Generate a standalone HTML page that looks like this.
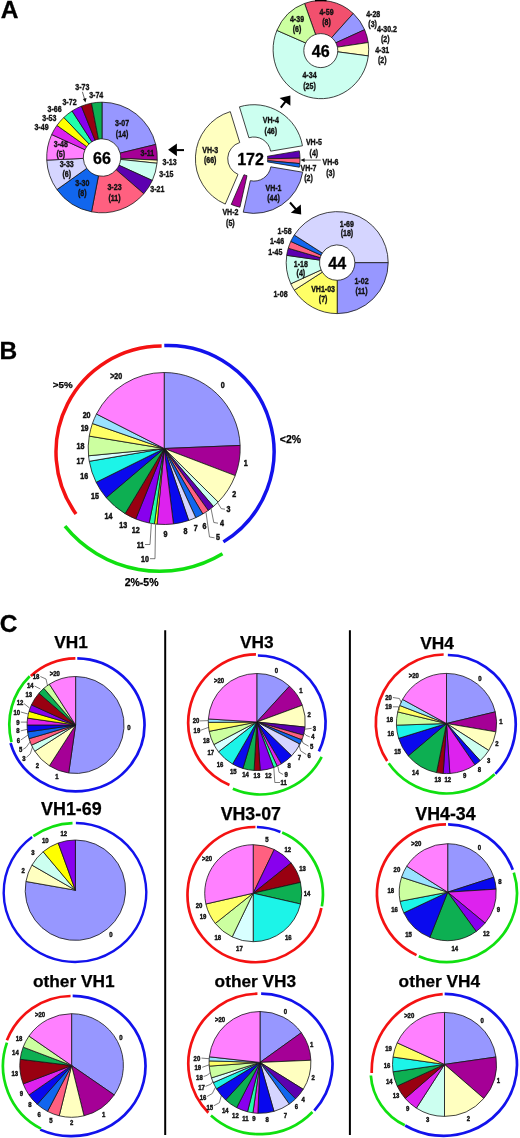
<!DOCTYPE html>
<html><head><meta charset="utf-8"><title>Figure</title>
<style>
html,body{margin:0;padding:0;background:#fff}
svg{display:block;font-family:"Liberation Sans",sans-serif}
</style></head><body>
<svg width="520" height="1138" viewBox="0 0 520 1138">
<rect width="520" height="1138" fill="#fff"/>
<text x="0.7" y="18.22" font-size="24.5" text-anchor="start" font-weight="bold" fill="#000" stroke="#000" stroke-width="0.3">A</text>
<text x="-0.5" y="359.02" font-size="24.5" text-anchor="start" font-weight="bold" fill="#000" stroke="#000" stroke-width="0.3">B</text>
<text x="-0.2" y="631.82" font-size="24.5" text-anchor="start" font-weight="bold" fill="#000" stroke="#000" stroke-width="0.3">C</text>
<path d="M102 102.2A55.3 55.3 0 0 1 155.74 144.46L120.17 153.09A18.7 18.7 0 0 0 102 138.8Z" fill="#9797FF" stroke="#151515" stroke-width="0.8" stroke-linejoin="round"/>
<path d="M155.74 144.46A55.3 55.3 0 0 1 157.24 160.13L120.68 158.39A18.7 18.7 0 0 0 120.17 153.09Z" fill="#A50096" stroke="#151515" stroke-width="0.8" stroke-linejoin="round"/>
<path d="M157.24 160.13A55.3 55.3 0 0 1 157 163.28L120.6 159.45A18.7 18.7 0 0 0 120.68 158.39Z" fill="#FFFFC0" stroke="#151515" stroke-width="0.8" stroke-linejoin="round"/>
<path d="M157 163.28A55.3 55.3 0 0 1 152.3 180.47L119.01 165.27A18.7 18.7 0 0 0 120.6 159.45Z" fill="#CCFFF0" stroke="#151515" stroke-width="0.8" stroke-linejoin="round"/>
<path d="M152.3 180.47A55.3 55.3 0 0 1 143.79 193.71L116.13 169.75A18.7 18.7 0 0 0 119.01 165.27Z" fill="#5C00B0" stroke="#151515" stroke-width="0.8" stroke-linejoin="round"/>
<path d="M143.79 193.71A55.3 55.3 0 0 1 91.53 211.8L98.46 175.86A18.7 18.7 0 0 0 116.13 169.75Z" fill="#FF6080" stroke="#151515" stroke-width="0.8" stroke-linejoin="round"/>
<path d="M91.53 211.8A55.3 55.3 0 0 1 56.95 189.58L86.77 168.35A18.7 18.7 0 0 0 98.46 175.86Z" fill="#1166EE" stroke="#151515" stroke-width="0.8" stroke-linejoin="round"/>
<path d="M56.95 189.58A55.3 55.3 0 0 1 46.76 160.13L83.32 158.39A18.7 18.7 0 0 0 86.77 168.35Z" fill="#D5D5FF" stroke="#151515" stroke-width="0.8" stroke-linejoin="round"/>
<path d="M46.76 160.13A55.3 55.3 0 0 1 51.7 134.53L84.99 149.73A18.7 18.7 0 0 0 83.32 158.39Z" fill="#FF80FF" stroke="#151515" stroke-width="0.8" stroke-linejoin="round"/>
<path d="M51.7 134.53A55.3 55.3 0 0 1 56.95 125.42L86.77 146.65A18.7 18.7 0 0 0 84.99 149.73Z" fill="#DD22EE" stroke="#151515" stroke-width="0.8" stroke-linejoin="round"/>
<path d="M56.95 125.42A55.3 55.3 0 0 1 63.84 117.48L89.1 143.97A18.7 18.7 0 0 0 86.77 146.65Z" fill="#FFFF00" stroke="#151515" stroke-width="0.8" stroke-linejoin="round"/>
<path d="M63.84 117.48A55.3 55.3 0 0 1 72.1 110.98L91.89 141.77A18.7 18.7 0 0 0 89.1 143.97Z" fill="#22FFAA" stroke="#151515" stroke-width="0.8" stroke-linejoin="round"/>
<path d="M72.1 110.98A55.3 55.3 0 0 1 81.45 106.16L95.05 140.14A18.7 18.7 0 0 0 91.89 141.77Z" fill="#8800EE" stroke="#151515" stroke-width="0.8" stroke-linejoin="round"/>
<path d="M81.45 106.16A55.3 55.3 0 0 1 91.53 103.2L98.46 139.14A18.7 18.7 0 0 0 95.05 140.14Z" fill="#990011" stroke="#151515" stroke-width="0.8" stroke-linejoin="round"/>
<path d="M91.53 103.2A55.3 55.3 0 0 1 102 102.2L102 138.8A18.7 18.7 0 0 0 98.46 139.14Z" fill="#0DAF52" stroke="#151515" stroke-width="0.8" stroke-linejoin="round"/>
<text transform="translate(102 163.98) scale(0.97 1)" font-size="16.6" text-anchor="middle" font-weight="bold" fill="#000" stroke="#000" stroke-width="0.3">66</text>
<g transform="translate(320.9 49.6) scale(1 1.027)">
<path d="M-16.35 -44.92A47.8 47.8 0 0 1 32.36 -35.18L6.77 -7.36A10 10 0 0 0 -3.42 -9.4Z" fill="#F2506E" stroke="#151515" stroke-width="0.8" stroke-linejoin="round"/>
<path d="M32.36 -35.18A47.8 47.8 0 0 1 43.7 -19.38L9.14 -4.05A10 10 0 0 0 6.77 -7.36Z" fill="#9797FF" stroke="#151515" stroke-width="0.8" stroke-linejoin="round"/>
<path d="M43.7 -19.38A47.8 47.8 0 0 1 47.3 -6.87L9.9 -1.44A10 10 0 0 0 9.14 -4.05Z" fill="#A50096" stroke="#151515" stroke-width="0.8" stroke-linejoin="round"/>
<path d="M47.3 -6.87A47.8 47.8 0 0 1 47.4 6.15L9.92 1.29A10 10 0 0 0 9.9 -1.44Z" fill="#FFFFC0" stroke="#151515" stroke-width="0.8" stroke-linejoin="round"/>
<path d="M47.4 6.15A47.8 47.8 0 1 1 -43.99 -18.71L-9.2 -3.91A10 10 0 1 0 9.92 1.29Z" fill="#CCFFF0" stroke="#151515" stroke-width="0.8" stroke-linejoin="round"/>
<path d="M-43.99 -18.71A47.8 47.8 0 0 1 -16.35 -44.92L-3.42 -9.4A10 10 0 0 0 -9.2 -3.91Z" fill="#CCFFA0" stroke="#151515" stroke-width="0.8" stroke-linejoin="round"/>
</g>
<circle cx="320.8" cy="50.6" r="17" fill="#fff" stroke="#151515" stroke-width="0.8"/>
<rect x="315" y="0" width="11.5" height="1.3" fill="#000"/>
<text transform="translate(320.8 56.78) scale(0.97 1)" font-size="16.6" text-anchor="middle" font-weight="bold" fill="#000" stroke="#000" stroke-width="0.3">46</text>
<path d="M388.2 262.6A51 51 0 0 1 337.2 313.6L337.2 280.3A17.7 17.7 0 0 0 354.9 262.6Z" fill="#9797FF" stroke="#151515" stroke-width="0.8" stroke-linejoin="round"/>
<path d="M337.2 313.6A51 51 0 0 1 294.3 290.17L322.31 272.17A17.7 17.7 0 0 0 337.2 280.3Z" fill="#FFFF66" stroke="#151515" stroke-width="0.8" stroke-linejoin="round"/>
<path d="M294.3 290.17A51 51 0 0 1 290.81 283.79L321.1 269.95A17.7 17.7 0 0 0 322.31 272.17Z" fill="#FFFFC0" stroke="#151515" stroke-width="0.8" stroke-linejoin="round"/>
<path d="M290.81 283.79A51 51 0 0 1 286.72 255.34L319.68 260.08A17.7 17.7 0 0 0 321.1 269.95Z" fill="#CCFFF0" stroke="#151515" stroke-width="0.8" stroke-linejoin="round"/>
<path d="M286.72 255.34A51 51 0 0 1 288.27 248.23L320.22 257.61A17.7 17.7 0 0 0 319.68 260.08Z" fill="#5C00B0" stroke="#151515" stroke-width="0.8" stroke-linejoin="round"/>
<path d="M288.27 248.23A51 51 0 0 1 290.81 241.41L321.1 255.25A17.7 17.7 0 0 0 320.22 257.61Z" fill="#FF6080" stroke="#151515" stroke-width="0.8" stroke-linejoin="round"/>
<path d="M290.81 241.41A51 51 0 0 1 294.3 235.03L322.31 253.03A17.7 17.7 0 0 0 321.1 255.25Z" fill="#1166EE" stroke="#151515" stroke-width="0.8" stroke-linejoin="round"/>
<path d="M294.3 235.03A51 51 0 0 1 388.2 262.6L354.9 262.6A17.7 17.7 0 0 0 322.31 253.03Z" fill="#D5D5FF" stroke="#151515" stroke-width="0.8" stroke-linejoin="round"/>
<text transform="translate(337.2 269.18) scale(0.97 1)" font-size="16.6" text-anchor="middle" font-weight="bold" fill="#000" stroke="#000" stroke-width="0.3">44</text>
<path d="M239.44 106.85A49.3 49.3 0 0 1 302.46 145.78L270.62 151.16A17 17 0 0 0 248.88 137.74Z" fill="#CCFFF0" stroke="#151515" stroke-width="0.8" stroke-linejoin="round"/>
<path d="M299.31 150.89A49.3 49.3 0 0 1 299.99 158.14L267.7 158.77A17 17 0 0 0 267.46 156.27Z" fill="#5C00B0" stroke="#151515" stroke-width="0.8" stroke-linejoin="round"/>
<path d="M299.99 158.14A49.3 49.3 0 0 1 299.79 163.6L267.63 160.65A17 17 0 0 0 267.7 158.77Z" fill="#FF6080" stroke="#151515" stroke-width="0.8" stroke-linejoin="round"/>
<path d="M299.79 163.6A49.3 49.3 0 0 1 299.33 167.21L267.47 161.9A17 17 0 0 0 267.63 160.65Z" fill="#1166EE" stroke="#151515" stroke-width="0.8" stroke-linejoin="round"/>
<path d="M302.68 172.19A49.3 49.3 0 0 1 243.26 212.18L250.33 180.67A17 17 0 0 0 270.82 166.87Z" fill="#9797FF" stroke="#151515" stroke-width="0.8" stroke-linejoin="round"/>
<path d="M239.91 207.2A49.3 49.3 0 0 1 231.25 204.4L243.99 174.72A17 17 0 0 0 246.98 175.69Z" fill="#A50096" stroke="#151515" stroke-width="0.8" stroke-linejoin="round"/>
<path d="M225.26 204.08A49.3 49.3 0 0 1 230.29 111.63L239.74 142.52A17 17 0 0 0 238 174.39Z" fill="#FFFFC0" stroke="#151515" stroke-width="0.8" stroke-linejoin="round"/>
<text transform="translate(250.6 164.68) scale(0.97 1)" font-size="16.6" text-anchor="middle" font-weight="bold" fill="#000" stroke="#000" stroke-width="0.3">172</text>
<text transform="translate(82.3 89.99) scale(0.85 1)" font-size="8.3" text-anchor="middle" font-weight="bold" fill="#111" stroke="#111" stroke-width="0.35">3-73</text>
<text transform="translate(96.2 97.59) scale(0.85 1)" font-size="8.3" text-anchor="middle" font-weight="bold" fill="#111" stroke="#111" stroke-width="0.35">3-74</text>
<text transform="translate(69.5 105.19) scale(0.85 1)" font-size="8.3" text-anchor="middle" font-weight="bold" fill="#111" stroke="#111" stroke-width="0.35">3-72</text>
<text transform="translate(54.6 112.49) scale(0.85 1)" font-size="8.3" text-anchor="middle" font-weight="bold" fill="#111" stroke="#111" stroke-width="0.35">3-66</text>
<text transform="translate(49.4 121.19) scale(0.85 1)" font-size="8.3" text-anchor="middle" font-weight="bold" fill="#111" stroke="#111" stroke-width="0.35">3-53</text>
<text transform="translate(41.5 129.79) scale(0.85 1)" font-size="8.3" text-anchor="middle" font-weight="bold" fill="#111" stroke="#111" stroke-width="0.35">3-49</text>
<text transform="translate(122.1 126.29) scale(0.85 1)" font-size="8.3" text-anchor="middle" font-weight="bold" fill="#111" stroke="#111" stroke-width="0.35">3-07</text>
<text transform="translate(122.1 136.59) scale(0.85 1)" font-size="8.3" text-anchor="middle" font-weight="bold" fill="#111" stroke="#111" stroke-width="0.35">(14)</text>
<text transform="translate(147.4 155.79) scale(0.85 1)" font-size="8.3" text-anchor="middle" font-weight="bold" fill="#111" stroke="#111" stroke-width="0.35">3-11</text>
<text transform="translate(169.6 164.89) scale(0.85 1)" font-size="8.3" text-anchor="middle" font-weight="bold" fill="#111" stroke="#111" stroke-width="0.35">3-13</text>
<text transform="translate(166.4 177.19) scale(0.85 1)" font-size="8.3" text-anchor="middle" font-weight="bold" fill="#111" stroke="#111" stroke-width="0.35">3-15</text>
<text transform="translate(157.4 191.79) scale(0.85 1)" font-size="8.3" text-anchor="middle" font-weight="bold" fill="#111" stroke="#111" stroke-width="0.35">3-21</text>
<text transform="translate(114.5 190.39) scale(0.85 1)" font-size="8.3" text-anchor="middle" font-weight="bold" fill="#111" stroke="#111" stroke-width="0.35">3-23</text>
<text transform="translate(114.5 200.69) scale(0.85 1)" font-size="8.3" text-anchor="middle" font-weight="bold" fill="#111" stroke="#111" stroke-width="0.35">(11)</text>
<text transform="translate(82.3 185.89) scale(0.85 1)" font-size="8.3" text-anchor="middle" font-weight="bold" fill="#111" stroke="#111" stroke-width="0.35">3-30</text>
<text transform="translate(82.3 196.19) scale(0.85 1)" font-size="8.3" text-anchor="middle" font-weight="bold" fill="#111" stroke="#111" stroke-width="0.35">(8)</text>
<text transform="translate(66.7 166.79) scale(0.85 1)" font-size="8.3" text-anchor="middle" font-weight="bold" fill="#111" stroke="#111" stroke-width="0.35">3-33</text>
<text transform="translate(66.7 177.09) scale(0.85 1)" font-size="8.3" text-anchor="middle" font-weight="bold" fill="#111" stroke="#111" stroke-width="0.35">(6)</text>
<text transform="translate(60.8 147.09) scale(0.85 1)" font-size="8.3" text-anchor="middle" font-weight="bold" fill="#111" stroke="#111" stroke-width="0.35">3-48</text>
<text transform="translate(60.8 157.39) scale(0.85 1)" font-size="8.3" text-anchor="middle" font-weight="bold" fill="#111" stroke="#111" stroke-width="0.35">(5)</text>
<polyline points="82.4,91.8 84.7,99.5" fill="none" stroke="#222" stroke-width="0.7"/>
<path d="M85.5 102.4L82.9 98.9L86.5 97.9Z" fill="#111"/>
<text transform="translate(326.5 15.09) scale(0.85 1)" font-size="8.3" text-anchor="middle" font-weight="bold" fill="#111" stroke="#111" stroke-width="0.35">4-59</text>
<text transform="translate(326.5 25.39) scale(0.85 1)" font-size="8.3" text-anchor="middle" font-weight="bold" fill="#111" stroke="#111" stroke-width="0.35">(8)</text>
<text transform="translate(297 21.99) scale(0.85 1)" font-size="8.3" text-anchor="middle" font-weight="bold" fill="#111" stroke="#111" stroke-width="0.35">4-39</text>
<text transform="translate(297 32.29) scale(0.85 1)" font-size="8.3" text-anchor="middle" font-weight="bold" fill="#111" stroke="#111" stroke-width="0.35">(6)</text>
<text transform="translate(309.5 78.49) scale(0.85 1)" font-size="8.3" text-anchor="middle" font-weight="bold" fill="#111" stroke="#111" stroke-width="0.35">4-34</text>
<text transform="translate(309.5 88.79) scale(0.85 1)" font-size="8.3" text-anchor="middle" font-weight="bold" fill="#111" stroke="#111" stroke-width="0.35">(25)</text>
<text transform="translate(373.2 16.79) scale(0.85 1)" font-size="8.3" text-anchor="middle" font-weight="bold" fill="#111" stroke="#111" stroke-width="0.35">4-28</text>
<text transform="translate(372.6 27.09) scale(0.85 1)" font-size="8.3" text-anchor="middle" font-weight="bold" fill="#111" stroke="#111" stroke-width="0.35">(3)</text>
<text transform="translate(387 31.69) scale(0.85 1)" font-size="8.3" text-anchor="middle" font-weight="bold" fill="#111" stroke="#111" stroke-width="0.35">4-30.2</text>
<text transform="translate(385.3 41.99) scale(0.85 1)" font-size="8.3" text-anchor="middle" font-weight="bold" fill="#111" stroke="#111" stroke-width="0.35">(2)</text>
<text transform="translate(382.2 53.19) scale(0.85 1)" font-size="8.3" text-anchor="middle" font-weight="bold" fill="#111" stroke="#111" stroke-width="0.35">4-31</text>
<text transform="translate(382.2 63.49) scale(0.85 1)" font-size="8.3" text-anchor="middle" font-weight="bold" fill="#111" stroke="#111" stroke-width="0.35">(2)</text>
<text transform="translate(346.9 226.59) scale(0.85 1)" font-size="8.3" text-anchor="middle" font-weight="bold" fill="#111" stroke="#111" stroke-width="0.35">1-69</text>
<text transform="translate(346.9 236.19) scale(0.85 1)" font-size="8.3" text-anchor="middle" font-weight="bold" fill="#111" stroke="#111" stroke-width="0.35">(18)</text>
<text transform="translate(361.5 283.99) scale(0.85 1)" font-size="8.3" text-anchor="middle" font-weight="bold" fill="#111" stroke="#111" stroke-width="0.35">1-02</text>
<text transform="translate(361.5 293.59) scale(0.85 1)" font-size="8.3" text-anchor="middle" font-weight="bold" fill="#111" stroke="#111" stroke-width="0.35">(11)</text>
<text transform="translate(323.1 292.29) scale(0.85 1)" font-size="8.3" text-anchor="middle" font-weight="bold" fill="#111" stroke="#111" stroke-width="0.35">VH1-03</text>
<text transform="translate(323.1 301.89) scale(0.85 1)" font-size="8.3" text-anchor="middle" font-weight="bold" fill="#111" stroke="#111" stroke-width="0.35">(7)</text>
<text transform="translate(300.9 266.69) scale(0.85 1)" font-size="8.3" text-anchor="middle" font-weight="bold" fill="#111" stroke="#111" stroke-width="0.35">1-18</text>
<text transform="translate(300.9 276.29) scale(0.85 1)" font-size="8.3" text-anchor="middle" font-weight="bold" fill="#111" stroke="#111" stroke-width="0.35">(4)</text>
<text transform="translate(280.5 296.79) scale(0.85 1)" font-size="8.3" text-anchor="middle" font-weight="bold" fill="#111" stroke="#111" stroke-width="0.35">1-08</text>
<text transform="translate(284.6 233.79) scale(0.85 1)" font-size="8.3" text-anchor="middle" font-weight="bold" fill="#111" stroke="#111" stroke-width="0.35">1-58</text>
<text transform="translate(277 244.19) scale(0.85 1)" font-size="8.3" text-anchor="middle" font-weight="bold" fill="#111" stroke="#111" stroke-width="0.35">1-46</text>
<text transform="translate(275.3 255.29) scale(0.85 1)" font-size="8.3" text-anchor="middle" font-weight="bold" fill="#111" stroke="#111" stroke-width="0.35">1-45</text>
<text transform="translate(270.8 123.39) scale(0.85 1)" font-size="8.3" text-anchor="middle" font-weight="bold" fill="#111" stroke="#111" stroke-width="0.35">VH-4</text>
<text transform="translate(270.8 133.69) scale(0.85 1)" font-size="8.3" text-anchor="middle" font-weight="bold" fill="#111" stroke="#111" stroke-width="0.35">(46)</text>
<text transform="translate(313.9 145.49) scale(0.85 1)" font-size="8.3" text-anchor="middle" font-weight="bold" fill="#111" stroke="#111" stroke-width="0.35">VH-5</text>
<text transform="translate(313.9 155.79) scale(0.85 1)" font-size="8.3" text-anchor="middle" font-weight="bold" fill="#111" stroke="#111" stroke-width="0.35">(4)</text>
<text transform="translate(308.5 171.09) scale(0.85 1)" font-size="8.3" text-anchor="middle" font-weight="bold" fill="#111" stroke="#111" stroke-width="0.35">VH-7</text>
<text transform="translate(308.5 181.39) scale(0.85 1)" font-size="8.3" text-anchor="middle" font-weight="bold" fill="#111" stroke="#111" stroke-width="0.35">(2)</text>
<text transform="translate(330.5 165.29) scale(0.85 1)" font-size="8.3" text-anchor="middle" font-weight="bold" fill="#111" stroke="#111" stroke-width="0.35">VH-6</text>
<text transform="translate(330.5 175.59) scale(0.85 1)" font-size="8.3" text-anchor="middle" font-weight="bold" fill="#111" stroke="#111" stroke-width="0.35">(3)</text>
<text transform="translate(273.5 190.69) scale(0.85 1)" font-size="8.3" text-anchor="middle" font-weight="bold" fill="#111" stroke="#111" stroke-width="0.35">VH-1</text>
<text transform="translate(273.5 200.99) scale(0.85 1)" font-size="8.3" text-anchor="middle" font-weight="bold" fill="#111" stroke="#111" stroke-width="0.35">(44)</text>
<text transform="translate(230.4 215.49) scale(0.85 1)" font-size="8.3" text-anchor="middle" font-weight="bold" fill="#111" stroke="#111" stroke-width="0.35">VH-2</text>
<text transform="translate(230.4 225.79) scale(0.85 1)" font-size="8.3" text-anchor="middle" font-weight="bold" fill="#111" stroke="#111" stroke-width="0.35">(5)</text>
<text transform="translate(210.2 152.79) scale(0.85 1)" font-size="8.3" text-anchor="middle" font-weight="bold" fill="#111" stroke="#111" stroke-width="0.35">VH-3</text>
<text transform="translate(210.2 163.09) scale(0.85 1)" font-size="8.3" text-anchor="middle" font-weight="bold" fill="#111" stroke="#111" stroke-width="0.35">(66)</text>
<polyline points="320.8,160.1 303.5,160.1" fill="none" stroke="#222" stroke-width="0.7"/>
<path d="M300.4 160.1L304.6 158.3L304.6 161.9Z" fill="#111"/>
<path d="M168.1 149.8L176.9 143.5L176.9 156.2Z" fill="#000"/>
<polyline points="176.5,150.1 184,150.1" fill="none" stroke="#000" stroke-width="2"/>
<path d="M290.4 95.4L279.6 98.1L290.4 105.8Z" fill="#000"/>
<polyline points="286,100.8 280.8,107.7" fill="none" stroke="#000" stroke-width="2"/>
<path d="M301.2 214.6L300.8 204.6L290.8 212.8Z" fill="#000"/>
<polyline points="290,202.5 296.5,210" fill="none" stroke="#000" stroke-width="2"/>
<path d="M164.2 448.5L164.2 372.5A76 76 0 0 1 240.14 445.45Z" fill="#9797FF" stroke="#151515" stroke-width="0.8" stroke-linejoin="round"/>
<path d="M164.2 448.5L240.14 445.45A76 76 0 0 1 235.2 475.61Z" fill="#A50096" stroke="#151515" stroke-width="0.8" stroke-linejoin="round"/>
<path d="M164.2 448.5L235.2 475.61A76 76 0 0 1 218.13 502.05Z" fill="#FFFFC0" stroke="#151515" stroke-width="0.8" stroke-linejoin="round"/>
<path d="M164.2 448.5L218.13 502.05A76 76 0 0 1 213.36 506.46Z" fill="#CCFFF0" stroke="#151515" stroke-width="0.8" stroke-linejoin="round"/>
<path d="M164.2 448.5L213.36 506.46A76 76 0 0 1 208.23 510.45Z" fill="#5C00B0" stroke="#151515" stroke-width="0.8" stroke-linejoin="round"/>
<path d="M164.2 448.5L208.23 510.45A76 76 0 0 1 202.77 513.98Z" fill="#FF6080" stroke="#151515" stroke-width="0.8" stroke-linejoin="round"/>
<path d="M164.2 448.5L202.77 513.98A76 76 0 0 1 195.72 517.66Z" fill="#1166EE" stroke="#151515" stroke-width="0.8" stroke-linejoin="round"/>
<path d="M164.2 448.5L195.72 517.66A76 76 0 0 1 188.69 520.45Z" fill="#D5D5FF" stroke="#151515" stroke-width="0.8" stroke-linejoin="round"/>
<path d="M164.2 448.5L188.69 520.45A76 76 0 0 1 173.46 523.93Z" fill="#0808EE" stroke="#151515" stroke-width="0.8" stroke-linejoin="round"/>
<path d="M164.2 448.5L173.46 523.93A76 76 0 0 1 157.05 524.16Z" fill="#DD22EE" stroke="#151515" stroke-width="0.8" stroke-linejoin="round"/>
<path d="M164.2 448.5L157.05 524.16A76 76 0 0 1 154.41 523.87Z" fill="#FFFF00" stroke="#151515" stroke-width="0.8" stroke-linejoin="round"/>
<path d="M164.2 448.5L154.41 523.87A76 76 0 0 1 149.18 523Z" fill="#22FFAA" stroke="#151515" stroke-width="0.8" stroke-linejoin="round"/>
<path d="M164.2 448.5L149.18 523A76 76 0 0 1 135.73 518.97Z" fill="#8800EE" stroke="#151515" stroke-width="0.8" stroke-linejoin="round"/>
<path d="M164.2 448.5L135.73 518.97A76 76 0 0 1 125.06 513.64Z" fill="#990011" stroke="#151515" stroke-width="0.8" stroke-linejoin="round"/>
<path d="M164.2 448.5L125.06 513.64A76 76 0 0 1 106.24 497.66Z" fill="#0DAF52" stroke="#151515" stroke-width="0.8" stroke-linejoin="round"/>
<path d="M164.2 448.5L106.24 497.66A76 76 0 0 1 96.13 482.29Z" fill="#0A0AEE" stroke="#151515" stroke-width="0.8" stroke-linejoin="round"/>
<path d="M164.2 448.5L96.13 482.29A76 76 0 0 1 89.29 461.31Z" fill="#1CF4E8" stroke="#151515" stroke-width="0.8" stroke-linejoin="round"/>
<path d="M164.2 448.5L89.29 461.31A76 76 0 0 1 88.55 455.78Z" fill="#D8FFFF" stroke="#151515" stroke-width="0.8" stroke-linejoin="round"/>
<path d="M164.2 448.5L88.55 455.78A76 76 0 0 1 89.22 436.09Z" fill="#CCFFA0" stroke="#151515" stroke-width="0.8" stroke-linejoin="round"/>
<path d="M164.2 448.5L89.22 436.09A76 76 0 0 1 92.43 423.51Z" fill="#FFFF66" stroke="#151515" stroke-width="0.8" stroke-linejoin="round"/>
<path d="M164.2 448.5L92.43 423.51A76 76 0 0 1 96.48 414Z" fill="#99E2FF" stroke="#151515" stroke-width="0.8" stroke-linejoin="round"/>
<path d="M164.2 448.5L96.48 414A76 76 0 0 1 164.2 372.5Z" fill="#FF80FF" stroke="#151515" stroke-width="0.8" stroke-linejoin="round"/>
<path d="M164.3 345.56A106 106 0 0 1 223.38 541.88" fill="none" stroke="#1212EC" stroke-width="3.5"/>
<path d="M76.03 514.01A106 106 0 0 1 161.63 346" fill="none" stroke="#F41212" stroke-width="3.5"/>
<path d="M222.49 553.75A121.75 121.75 0 0 1 64.98 526.12" fill="none" stroke="#10E010" stroke-width="3.5"/>
<text x="279.8" y="443.18" font-size="10.5" text-anchor="start" font-weight="bold" fill="#000" stroke="#000" stroke-width="0.25">&lt;2%</text>
<text x="62.7" y="388.43" font-size="9.8" text-anchor="middle" font-weight="bold" fill="#000" stroke="#000" stroke-width="0.25">&gt;5%</text>
<text x="141.6" y="585.68" font-size="10.5" text-anchor="middle" font-weight="bold" fill="#000" stroke="#000" stroke-width="0.25">2%-5%</text>
<text transform="translate(222.7 387.95) scale(0.87 1)" font-size="8.2" text-anchor="middle" font-weight="bold" fill="#111" stroke="#111" stroke-width="0.45">0</text>
<text transform="translate(245.8 466.05) scale(0.87 1)" font-size="8.2" text-anchor="middle" font-weight="bold" fill="#111" stroke="#111" stroke-width="0.45">1</text>
<text transform="translate(234.2 497.35) scale(0.87 1)" font-size="8.2" text-anchor="middle" font-weight="bold" fill="#111" stroke="#111" stroke-width="0.45">2</text>
<text transform="translate(228.5 512.15) scale(0.87 1)" font-size="8.2" text-anchor="middle" font-weight="bold" fill="#111" stroke="#111" stroke-width="0.45">3</text>
<text transform="translate(221.9 525.95) scale(0.87 1)" font-size="8.2" text-anchor="middle" font-weight="bold" fill="#111" stroke="#111" stroke-width="0.45">4</text>
<text transform="translate(217.9 540.45) scale(0.87 1)" font-size="8.2" text-anchor="middle" font-weight="bold" fill="#111" stroke="#111" stroke-width="0.45">5</text>
<text transform="translate(204.4 528.55) scale(0.87 1)" font-size="8.2" text-anchor="middle" font-weight="bold" fill="#111" stroke="#111" stroke-width="0.45">6</text>
<text transform="translate(195.8 530.75) scale(0.87 1)" font-size="8.2" text-anchor="middle" font-weight="bold" fill="#111" stroke="#111" stroke-width="0.45">7</text>
<text transform="translate(185.4 533.75) scale(0.87 1)" font-size="8.2" text-anchor="middle" font-weight="bold" fill="#111" stroke="#111" stroke-width="0.45">8</text>
<text transform="translate(165.4 536.75) scale(0.87 1)" font-size="8.2" text-anchor="middle" font-weight="bold" fill="#111" stroke="#111" stroke-width="0.45">9</text>
<text transform="translate(144.9 561.55) scale(0.87 1)" font-size="8.2" text-anchor="middle" font-weight="bold" fill="#111" stroke="#111" stroke-width="0.45">10</text>
<text transform="translate(140.4 547.55) scale(0.87 1)" font-size="8.2" text-anchor="middle" font-weight="bold" fill="#111" stroke="#111" stroke-width="0.45">11</text>
<text transform="translate(135.8 532.55) scale(0.87 1)" font-size="8.2" text-anchor="middle" font-weight="bold" fill="#111" stroke="#111" stroke-width="0.45">12</text>
<text transform="translate(123.2 528.35) scale(0.87 1)" font-size="8.2" text-anchor="middle" font-weight="bold" fill="#111" stroke="#111" stroke-width="0.45">13</text>
<text transform="translate(108.5 518.75) scale(0.87 1)" font-size="8.2" text-anchor="middle" font-weight="bold" fill="#111" stroke="#111" stroke-width="0.45">14</text>
<text transform="translate(95 499.45) scale(0.87 1)" font-size="8.2" text-anchor="middle" font-weight="bold" fill="#111" stroke="#111" stroke-width="0.45">15</text>
<text transform="translate(84.2 479.15) scale(0.87 1)" font-size="8.2" text-anchor="middle" font-weight="bold" fill="#111" stroke="#111" stroke-width="0.45">16</text>
<text transform="translate(80.4 463.75) scale(0.87 1)" font-size="8.2" text-anchor="middle" font-weight="bold" fill="#111" stroke="#111" stroke-width="0.45">17</text>
<text transform="translate(80.4 449.45) scale(0.87 1)" font-size="8.2" text-anchor="middle" font-weight="bold" fill="#111" stroke="#111" stroke-width="0.45">18</text>
<text transform="translate(84.6 431.45) scale(0.87 1)" font-size="8.2" text-anchor="middle" font-weight="bold" fill="#111" stroke="#111" stroke-width="0.45">19</text>
<text transform="translate(86.6 417.95) scale(0.87 1)" font-size="8.2" text-anchor="middle" font-weight="bold" fill="#111" stroke="#111" stroke-width="0.45">20</text>
<text transform="translate(116.2 379.15) scale(0.87 1)" font-size="8.2" text-anchor="middle" font-weight="bold" fill="#111" stroke="#111" stroke-width="0.45">&gt;20</text>
<polyline points="217.5,502.5 221.3,508.7 225,509.2" fill="none" stroke="#222" stroke-width="0.6"/>
<polyline points="211,508.5 213.8,522.5 218,523.2" fill="none" stroke="#222" stroke-width="0.6"/>
<polyline points="206,512.5 209.5,537 214.5,537.8" fill="none" stroke="#222" stroke-width="0.6"/>
<polyline points="155.5,524.5 155,558.7 150,558.7" fill="none" stroke="#222" stroke-width="0.6"/>
<polyline points="151.3,524 150,544.5 145,544.5" fill="none" stroke="#222" stroke-width="0.6"/>
<polyline points="165.2,630.3 165.2,1135" fill="none" stroke="#000" stroke-width="2"/>
<polyline points="349.9,630.3 349.9,1135" fill="none" stroke="#000" stroke-width="2"/>
<text x="71" y="648.33" font-size="17.3" text-anchor="middle" font-weight="bold" fill="#000" stroke="#000" stroke-width="0.25">VH1</text>
<path d="M75.6 725L75.6 676.5A48.5 48.5 0 1 1 68.7 773.01Z" fill="#9797FF" stroke="#151515" stroke-width="0.8" stroke-linejoin="round"/>
<path d="M75.6 725L68.7 773.01A48.5 48.5 0 0 1 49.38 765.8Z" fill="#A50096" stroke="#151515" stroke-width="0.8" stroke-linejoin="round"/>
<path d="M75.6 725L49.38 765.8A48.5 48.5 0 0 1 34.8 751.22Z" fill="#FFFFC0" stroke="#151515" stroke-width="0.8" stroke-linejoin="round"/>
<path d="M75.6 725L34.8 751.22A48.5 48.5 0 0 1 31.48 745.15Z" fill="#CCFFF0" stroke="#151515" stroke-width="0.8" stroke-linejoin="round"/>
<path d="M75.6 725L31.48 745.15A48.5 48.5 0 0 1 29.06 738.66Z" fill="#FF6080" stroke="#151515" stroke-width="0.8" stroke-linejoin="round"/>
<path d="M75.6 725L29.06 738.66A48.5 48.5 0 0 1 27.59 731.9Z" fill="#1166EE" stroke="#151515" stroke-width="0.8" stroke-linejoin="round"/>
<path d="M75.6 725L27.59 731.9A48.5 48.5 0 0 1 27.1 725Z" fill="#0808EE" stroke="#151515" stroke-width="0.8" stroke-linejoin="round"/>
<path d="M75.6 725L27.1 725A48.5 48.5 0 0 1 27.59 718.1Z" fill="#DD22EE" stroke="#151515" stroke-width="0.8" stroke-linejoin="round"/>
<path d="M75.6 725L27.59 718.1A48.5 48.5 0 0 1 29.06 711.34Z" fill="#FFFF00" stroke="#151515" stroke-width="0.8" stroke-linejoin="round"/>
<path d="M75.6 725L29.06 711.34A48.5 48.5 0 0 1 31.48 704.85Z" fill="#8800EE" stroke="#151515" stroke-width="0.8" stroke-linejoin="round"/>
<path d="M75.6 725L31.48 704.85A48.5 48.5 0 0 1 38.95 693.24Z" fill="#990011" stroke="#151515" stroke-width="0.8" stroke-linejoin="round"/>
<path d="M75.6 725L38.95 693.24A48.5 48.5 0 0 1 43.84 688.35Z" fill="#0DAF52" stroke="#151515" stroke-width="0.8" stroke-linejoin="round"/>
<path d="M75.6 725L43.84 688.35A48.5 48.5 0 0 1 49.38 684.2Z" fill="#CCFFA0" stroke="#151515" stroke-width="0.8" stroke-linejoin="round"/>
<path d="M75.6 725L49.38 684.2A48.5 48.5 0 0 1 75.6 676.5Z" fill="#FF80FF" stroke="#151515" stroke-width="0.8" stroke-linejoin="round"/>
<path d="M77.27 658.31A68.3 66.5 0 1 1 10.55 743.13" fill="none" stroke="#1212EC" stroke-width="2.7"/>
<path d="M11.52 742.04A66.9 67.5 0 0 1 29.73 676.24" fill="none" stroke="#10E010" stroke-width="2.7"/>
<path d="M30.83 675.93A66.9 66.5 0 0 1 75.38 658.3" fill="none" stroke="#F41212" stroke-width="2.7"/>
<text transform="translate(128.9 730.49) scale(0.83 1)" font-size="7.2" text-anchor="middle" font-weight="bold" fill="#111" stroke="#111" stroke-width="0.45">0</text>
<text transform="translate(56.8 778.59) scale(0.83 1)" font-size="7.2" text-anchor="middle" font-weight="bold" fill="#111" stroke="#111" stroke-width="0.45">1</text>
<text transform="translate(37.5 767.99) scale(0.83 1)" font-size="7.2" text-anchor="middle" font-weight="bold" fill="#111" stroke="#111" stroke-width="0.45">2</text>
<text transform="translate(23.9 760.79) scale(0.83 1)" font-size="7.2" text-anchor="middle" font-weight="bold" fill="#111" stroke="#111" stroke-width="0.45">3</text>
<text transform="translate(20.6 752.19) scale(0.83 1)" font-size="7.2" text-anchor="middle" font-weight="bold" fill="#111" stroke="#111" stroke-width="0.45">5</text>
<text transform="translate(18.4 742.59) scale(0.83 1)" font-size="7.2" text-anchor="middle" font-weight="bold" fill="#111" stroke="#111" stroke-width="0.45">6</text>
<text transform="translate(17.9 733.39) scale(0.83 1)" font-size="7.2" text-anchor="middle" font-weight="bold" fill="#111" stroke="#111" stroke-width="0.45">8</text>
<text transform="translate(17.9 724.69) scale(0.83 1)" font-size="7.2" text-anchor="middle" font-weight="bold" fill="#111" stroke="#111" stroke-width="0.45">9</text>
<text transform="translate(16.7 714.59) scale(0.83 1)" font-size="7.2" text-anchor="middle" font-weight="bold" fill="#111" stroke="#111" stroke-width="0.45">10</text>
<text transform="translate(20 705.39) scale(0.83 1)" font-size="7.2" text-anchor="middle" font-weight="bold" fill="#111" stroke="#111" stroke-width="0.45">12</text>
<text transform="translate(28.8 697.29) scale(0.83 1)" font-size="7.2" text-anchor="middle" font-weight="bold" fill="#111" stroke="#111" stroke-width="0.45">13</text>
<text transform="translate(30.3 688.09) scale(0.83 1)" font-size="7.2" text-anchor="middle" font-weight="bold" fill="#111" stroke="#111" stroke-width="0.45">14</text>
<text transform="translate(36 679.09) scale(0.83 1)" font-size="7.2" text-anchor="middle" font-weight="bold" fill="#111" stroke="#111" stroke-width="0.45">18</text>
<text transform="translate(54.8 675.69) scale(0.83 1)" font-size="7.2" text-anchor="middle" font-weight="bold" fill="#111" stroke="#111" stroke-width="0.45">&gt;20</text>
<polyline points="40.4,676.5 46,679 47.6,686" fill="none" stroke="#222" stroke-width="0.6"/>
<polyline points="34.6,686 40.4,689" fill="none" stroke="#222" stroke-width="0.6"/>
<polyline points="23.8,703.4 29.5,708" fill="none" stroke="#222" stroke-width="0.6"/>
<polyline points="20.8,712 28,714" fill="none" stroke="#222" stroke-width="0.6"/>
<polyline points="20.8,722.1 27.4,722.1" fill="none" stroke="#222" stroke-width="0.6"/>
<polyline points="20.8,730.8 27.4,729.3" fill="none" stroke="#222" stroke-width="0.6"/>
<polyline points="20.8,740 28,735" fill="none" stroke="#222" stroke-width="0.6"/>
<polyline points="23.2,749.2 26,747.5 30.3,741.5" fill="none" stroke="#222" stroke-width="0.6"/>
<polyline points="26.5,757.3 30.3,753.8 32.6,746.6" fill="none" stroke="#222" stroke-width="0.6"/>
<text x="256.8" y="647.93" font-size="17.3" text-anchor="middle" font-weight="bold" fill="#000" stroke="#000" stroke-width="0.25">VH3</text>
<path d="M256.8 722L256.8 673.5A48.5 48.5 0 0 1 289.5 686.18Z" fill="#9797FF" stroke="#151515" stroke-width="0.8" stroke-linejoin="round"/>
<path d="M256.8 722L289.5 686.18A48.5 48.5 0 0 1 302.32 705.25Z" fill="#A50096" stroke="#151515" stroke-width="0.8" stroke-linejoin="round"/>
<path d="M256.8 722L302.32 705.25A48.5 48.5 0 0 1 305.03 727.07Z" fill="#FFFFC0" stroke="#151515" stroke-width="0.8" stroke-linejoin="round"/>
<path d="M256.8 722L305.03 727.07A48.5 48.5 0 0 1 303.47 735.21Z" fill="#5C00B0" stroke="#151515" stroke-width="0.8" stroke-linejoin="round"/>
<path d="M256.8 722L303.47 735.21A48.5 48.5 0 0 1 301.86 739.93Z" fill="#FF6080" stroke="#151515" stroke-width="0.8" stroke-linejoin="round"/>
<path d="M256.8 722L301.86 739.93A48.5 48.5 0 0 1 299.94 744.17Z" fill="#1166EE" stroke="#151515" stroke-width="0.8" stroke-linejoin="round"/>
<path d="M256.8 722L299.94 744.17A48.5 48.5 0 0 1 291.57 755.81Z" fill="#D5D5FF" stroke="#151515" stroke-width="0.8" stroke-linejoin="round"/>
<path d="M256.8 722L291.57 755.81A48.5 48.5 0 0 1 281.27 763.87Z" fill="#0808EE" stroke="#151515" stroke-width="0.8" stroke-linejoin="round"/>
<path d="M256.8 722L281.27 763.87A48.5 48.5 0 0 1 277.07 766.06Z" fill="#DD22EE" stroke="#151515" stroke-width="0.8" stroke-linejoin="round"/>
<path d="M256.8 722L277.07 766.06A48.5 48.5 0 0 1 273.63 767.49Z" fill="#22FFAA" stroke="#151515" stroke-width="0.8" stroke-linejoin="round"/>
<path d="M256.8 722L273.63 767.49A48.5 48.5 0 0 1 260.18 770.38Z" fill="#8800EE" stroke="#151515" stroke-width="0.8" stroke-linejoin="round"/>
<path d="M256.8 722L260.18 770.38A48.5 48.5 0 0 1 254.09 770.42Z" fill="#990011" stroke="#151515" stroke-width="0.8" stroke-linejoin="round"/>
<path d="M256.8 722L254.09 770.42A48.5 48.5 0 0 1 242.86 768.45Z" fill="#0DAF52" stroke="#151515" stroke-width="0.8" stroke-linejoin="round"/>
<path d="M256.8 722L242.86 768.45A48.5 48.5 0 0 1 232.55 764Z" fill="#0A0AEE" stroke="#151515" stroke-width="0.8" stroke-linejoin="round"/>
<path d="M256.8 722L232.55 764A48.5 48.5 0 0 1 218.53 751.79Z" fill="#1CF4E8" stroke="#151515" stroke-width="0.8" stroke-linejoin="round"/>
<path d="M256.8 722L218.53 751.79A48.5 48.5 0 0 1 213.86 744.54Z" fill="#D8FFFF" stroke="#151515" stroke-width="0.8" stroke-linejoin="round"/>
<path d="M256.8 722L213.86 744.54A48.5 48.5 0 0 1 209.21 731.34Z" fill="#CCFFA0" stroke="#151515" stroke-width="0.8" stroke-linejoin="round"/>
<path d="M256.8 722L209.21 731.34A48.5 48.5 0 0 1 208.3 722.34Z" fill="#FFFF66" stroke="#151515" stroke-width="0.8" stroke-linejoin="round"/>
<path d="M256.8 722L208.3 722.34A48.5 48.5 0 0 1 208.4 718.95Z" fill="#99E2FF" stroke="#151515" stroke-width="0.8" stroke-linejoin="round"/>
<path d="M256.8 722L208.4 718.95A48.5 48.5 0 0 1 256.8 673.5Z" fill="#FF80FF" stroke="#151515" stroke-width="0.8" stroke-linejoin="round"/>
<path d="M257.88 655.51A68.8 67 0 0 1 318.9 751.34" fill="none" stroke="#1212EC" stroke-width="2.7"/>
<path d="M321.65 756.89A69.5 69.5 0 0 1 232.84 788.78" fill="none" stroke="#10E010" stroke-width="2.7"/>
<path d="M229.45 785.04A68.6 68.2 0 0 1 255.96 654.31" fill="none" stroke="#F41212" stroke-width="2.7"/>
<text transform="translate(276.3 672.79) scale(0.83 1)" font-size="7.2" text-anchor="middle" font-weight="bold" fill="#111" stroke="#111" stroke-width="0.45">0</text>
<text transform="translate(300.9 693.39) scale(0.83 1)" font-size="7.2" text-anchor="middle" font-weight="bold" fill="#111" stroke="#111" stroke-width="0.45">1</text>
<text transform="translate(309.2 717.39) scale(0.83 1)" font-size="7.2" text-anchor="middle" font-weight="bold" fill="#111" stroke="#111" stroke-width="0.45">2</text>
<text transform="translate(314.5 730.89) scale(0.83 1)" font-size="7.2" text-anchor="middle" font-weight="bold" fill="#111" stroke="#111" stroke-width="0.45">3</text>
<text transform="translate(312.9 739.49) scale(0.83 1)" font-size="7.2" text-anchor="middle" font-weight="bold" fill="#111" stroke="#111" stroke-width="0.45">4</text>
<text transform="translate(311.7 748.79) scale(0.83 1)" font-size="7.2" text-anchor="middle" font-weight="bold" fill="#111" stroke="#111" stroke-width="0.45">5</text>
<text transform="translate(309.2 757.99) scale(0.83 1)" font-size="7.2" text-anchor="middle" font-weight="bold" fill="#111" stroke="#111" stroke-width="0.45">6</text>
<text transform="translate(299.4 760.09) scale(0.83 1)" font-size="7.2" text-anchor="middle" font-weight="bold" fill="#111" stroke="#111" stroke-width="0.45">7</text>
<text transform="translate(289.2 768.09) scale(0.83 1)" font-size="7.2" text-anchor="middle" font-weight="bold" fill="#111" stroke="#111" stroke-width="0.45">8</text>
<text transform="translate(286.2 777.09) scale(0.83 1)" font-size="7.2" text-anchor="middle" font-weight="bold" fill="#111" stroke="#111" stroke-width="0.45">9</text>
<text transform="translate(283.7 785.09) scale(0.83 1)" font-size="7.2" text-anchor="middle" font-weight="bold" fill="#111" stroke="#111" stroke-width="0.45">11</text>
<text transform="translate(268.3 777.99) scale(0.83 1)" font-size="7.2" text-anchor="middle" font-weight="bold" fill="#111" stroke="#111" stroke-width="0.45">12</text>
<text transform="translate(256.9 777.99) scale(0.83 1)" font-size="7.2" text-anchor="middle" font-weight="bold" fill="#111" stroke="#111" stroke-width="0.45">13</text>
<text transform="translate(245.5 777.39) scale(0.83 1)" font-size="7.2" text-anchor="middle" font-weight="bold" fill="#111" stroke="#111" stroke-width="0.45">14</text>
<text transform="translate(233.2 774.29) scale(0.83 1)" font-size="7.2" text-anchor="middle" font-weight="bold" fill="#111" stroke="#111" stroke-width="0.45">15</text>
<text transform="translate(220 766.59) scale(0.83 1)" font-size="7.2" text-anchor="middle" font-weight="bold" fill="#111" stroke="#111" stroke-width="0.45">16</text>
<text transform="translate(210.8 754.89) scale(0.83 1)" font-size="7.2" text-anchor="middle" font-weight="bold" fill="#111" stroke="#111" stroke-width="0.45">17</text>
<text transform="translate(206.2 743.19) scale(0.83 1)" font-size="7.2" text-anchor="middle" font-weight="bold" fill="#111" stroke="#111" stroke-width="0.45">18</text>
<text transform="translate(196.9 732.79) scale(0.83 1)" font-size="7.2" text-anchor="middle" font-weight="bold" fill="#111" stroke="#111" stroke-width="0.45">19</text>
<text transform="translate(196 723.49) scale(0.83 1)" font-size="7.2" text-anchor="middle" font-weight="bold" fill="#111" stroke="#111" stroke-width="0.45">20</text>
<text transform="translate(219.1 682.59) scale(0.83 1)" font-size="7.2" text-anchor="middle" font-weight="bold" fill="#111" stroke="#111" stroke-width="0.45">&gt;20</text>
<polyline points="311.7,728.3 304.6,729.2" fill="none" stroke="#222" stroke-width="0.6"/>
<polyline points="309.8,736.9 306.2,735.4 303.1,732.3" fill="none" stroke="#222" stroke-width="0.6"/>
<polyline points="308.6,746.2 303.1,743.1 300.9,737.8" fill="none" stroke="#222" stroke-width="0.6"/>
<polyline points="306.2,754.5 300.6,750.8 298.5,743.1" fill="none" stroke="#222" stroke-width="0.6"/>
<polyline points="283.1,774.5 279.1,772.3 277.8,766.2" fill="none" stroke="#222" stroke-width="0.6"/>
<polyline points="280,782.5 274.8,782.5 273.8,767.7" fill="none" stroke="#222" stroke-width="0.6"/>
<polyline points="200.9,730.2 209.2,727.1" fill="none" stroke="#222" stroke-width="0.6"/>
<polyline points="200,720.9 208.3,720.6" fill="none" stroke="#222" stroke-width="0.6"/>
<text x="437.1" y="648.53" font-size="17.3" text-anchor="middle" font-weight="bold" fill="#000" stroke="#000" stroke-width="0.25">VH4</text>
<path d="M446.5 723.5L446.5 673.4A50.1 50.1 0 0 1 495.24 711.89Z" fill="#9797FF" stroke="#151515" stroke-width="0.8" stroke-linejoin="round"/>
<path d="M446.5 723.5L495.24 711.89A50.1 50.1 0 0 1 495.9 731.83Z" fill="#A50096" stroke="#151515" stroke-width="0.8" stroke-linejoin="round"/>
<path d="M446.5 723.5L495.9 731.83A50.1 50.1 0 0 1 488.73 750.46Z" fill="#FFFFC0" stroke="#151515" stroke-width="0.8" stroke-linejoin="round"/>
<path d="M446.5 723.5L488.73 750.46A50.1 50.1 0 0 1 480.11 760.66Z" fill="#CCFFF0" stroke="#151515" stroke-width="0.8" stroke-linejoin="round"/>
<path d="M446.5 723.5L480.11 760.66A50.1 50.1 0 0 1 474.85 764.8Z" fill="#0808EE" stroke="#151515" stroke-width="0.8" stroke-linejoin="round"/>
<path d="M446.5 723.5L474.85 764.8A50.1 50.1 0 0 1 449.85 773.49Z" fill="#DD22EE" stroke="#151515" stroke-width="0.8" stroke-linejoin="round"/>
<path d="M446.5 723.5L449.85 773.49A50.1 50.1 0 0 1 443.15 773.49Z" fill="#8800EE" stroke="#151515" stroke-width="0.8" stroke-linejoin="round"/>
<path d="M446.5 723.5L443.15 773.49A50.1 50.1 0 0 1 436.52 772.6Z" fill="#990011" stroke="#151515" stroke-width="0.8" stroke-linejoin="round"/>
<path d="M446.5 723.5L436.52 772.6A50.1 50.1 0 0 1 408.24 755.85Z" fill="#0DAF52" stroke="#151515" stroke-width="0.8" stroke-linejoin="round"/>
<path d="M446.5 723.5L408.24 755.85A50.1 50.1 0 0 1 398.65 738.34Z" fill="#0A0AEE" stroke="#151515" stroke-width="0.8" stroke-linejoin="round"/>
<path d="M446.5 723.5L398.65 738.34A50.1 50.1 0 0 1 396.43 725.17Z" fill="#1CF4E8" stroke="#151515" stroke-width="0.8" stroke-linejoin="round"/>
<path d="M446.5 723.5L396.43 725.17A50.1 50.1 0 0 1 397.76 711.89Z" fill="#CCFFA0" stroke="#151515" stroke-width="0.8" stroke-linejoin="round"/>
<path d="M446.5 723.5L397.76 711.89A50.1 50.1 0 0 1 399.75 705.49Z" fill="#FFFF66" stroke="#151515" stroke-width="0.8" stroke-linejoin="round"/>
<path d="M446.5 723.5L399.75 705.49A50.1 50.1 0 0 1 402.56 699.42Z" fill="#99E2FF" stroke="#151515" stroke-width="0.8" stroke-linejoin="round"/>
<path d="M446.5 723.5L402.56 699.42A50.1 50.1 0 0 1 446.5 673.4Z" fill="#FF80FF" stroke="#151515" stroke-width="0.8" stroke-linejoin="round"/>
<path d="M447.84 655.01A68.7 69.5 0 0 1 495.32 773.9" fill="none" stroke="#1212EC" stroke-width="2.7"/>
<path d="M494.55 774.25A70.1 70.1 0 0 1 388.67 763.31" fill="none" stroke="#10E010" stroke-width="2.7"/>
<path d="M387.21 761.12A68.7 68.7 0 0 1 443.66 654.51" fill="none" stroke="#F41212" stroke-width="2.7"/>
<text transform="translate(480 681.09) scale(0.83 1)" font-size="7.2" text-anchor="middle" font-weight="bold" fill="#111" stroke="#111" stroke-width="0.45">0</text>
<text transform="translate(500.9 724.09) scale(0.83 1)" font-size="7.2" text-anchor="middle" font-weight="bold" fill="#111" stroke="#111" stroke-width="0.45">1</text>
<text transform="translate(496.9 746.29) scale(0.83 1)" font-size="7.2" text-anchor="middle" font-weight="bold" fill="#111" stroke="#111" stroke-width="0.45">2</text>
<text transform="translate(488.6 762.59) scale(0.83 1)" font-size="7.2" text-anchor="middle" font-weight="bold" fill="#111" stroke="#111" stroke-width="0.45">3</text>
<text transform="translate(479.4 771.79) scale(0.83 1)" font-size="7.2" text-anchor="middle" font-weight="bold" fill="#111" stroke="#111" stroke-width="0.45">8</text>
<text transform="translate(464.6 777.99) scale(0.83 1)" font-size="7.2" text-anchor="middle" font-weight="bold" fill="#111" stroke="#111" stroke-width="0.45">9</text>
<text transform="translate(447.7 781.99) scale(0.83 1)" font-size="7.2" text-anchor="middle" font-weight="bold" fill="#111" stroke="#111" stroke-width="0.45">12</text>
<text transform="translate(437.8 781.99) scale(0.83 1)" font-size="7.2" text-anchor="middle" font-weight="bold" fill="#111" stroke="#111" stroke-width="0.45">13</text>
<text transform="translate(415.4 774.89) scale(0.83 1)" font-size="7.2" text-anchor="middle" font-weight="bold" fill="#111" stroke="#111" stroke-width="0.45">14</text>
<text transform="translate(397.5 753.99) scale(0.83 1)" font-size="7.2" text-anchor="middle" font-weight="bold" fill="#111" stroke="#111" stroke-width="0.45">15</text>
<text transform="translate(390.8 735.79) scale(0.83 1)" font-size="7.2" text-anchor="middle" font-weight="bold" fill="#111" stroke="#111" stroke-width="0.45">16</text>
<text transform="translate(389.8 721.69) scale(0.83 1)" font-size="7.2" text-anchor="middle" font-weight="bold" fill="#111" stroke="#111" stroke-width="0.45">18</text>
<text transform="translate(388.6 709.39) scale(0.83 1)" font-size="7.2" text-anchor="middle" font-weight="bold" fill="#111" stroke="#111" stroke-width="0.45">19</text>
<text transform="translate(388.6 700.09) scale(0.83 1)" font-size="7.2" text-anchor="middle" font-weight="bold" fill="#111" stroke="#111" stroke-width="0.45">20</text>
<text transform="translate(413.8 677.99) scale(0.83 1)" font-size="7.2" text-anchor="middle" font-weight="bold" fill="#111" stroke="#111" stroke-width="0.45">&gt;20</text>
<polyline points="392.9,706.8 398.5,706.8 399.4,710.2" fill="none" stroke="#222" stroke-width="0.6"/>
<polyline points="392.9,697.5 399.4,698.5 401.5,703.1" fill="none" stroke="#222" stroke-width="0.6"/>
<text x="71.4" y="815.44" font-size="17.9" text-anchor="middle" font-weight="bold" fill="#000" stroke="#000" stroke-width="0.25">VH1-69</text>
<path d="M75.4 890.2L75.4 840A50.2 50.2 0 1 1 25.96 881.48Z" fill="#9797FF" stroke="#151515" stroke-width="0.8" stroke-linejoin="round"/>
<path d="M75.4 890.2L25.96 881.48A50.2 50.2 0 0 1 31.93 865.1Z" fill="#FFFFC0" stroke="#151515" stroke-width="0.8" stroke-linejoin="round"/>
<path d="M75.4 890.2L31.93 865.1A50.2 50.2 0 0 1 43.13 851.74Z" fill="#CCFFF0" stroke="#151515" stroke-width="0.8" stroke-linejoin="round"/>
<path d="M75.4 890.2L43.13 851.74A50.2 50.2 0 0 1 58.23 843.03Z" fill="#FFFF00" stroke="#151515" stroke-width="0.8" stroke-linejoin="round"/>
<path d="M75.4 890.2L58.23 843.03A50.2 50.2 0 0 1 75.4 840Z" fill="#8800EE" stroke="#151515" stroke-width="0.8" stroke-linejoin="round"/>
<path d="M75.87 823.01A71.3 69.5 0 1 1 32.09 836.99" fill="none" stroke="#1212EC" stroke-width="2.4000000000000004"/>
<path d="M33.39 836.06A71.3 69.5 0 0 1 72.51 823.04" fill="none" stroke="#10E010" stroke-width="2.7"/>
<text transform="translate(110.8 937.09) scale(0.83 1)" font-size="7.2" text-anchor="middle" font-weight="bold" fill="#111" stroke="#111" stroke-width="0.45">0</text>
<text transform="translate(23.1 873.39) scale(0.83 1)" font-size="7.2" text-anchor="middle" font-weight="bold" fill="#111" stroke="#111" stroke-width="0.45">2</text>
<text transform="translate(32.9 855.49) scale(0.83 1)" font-size="7.2" text-anchor="middle" font-weight="bold" fill="#111" stroke="#111" stroke-width="0.45">3</text>
<text transform="translate(45.2 842.59) scale(0.83 1)" font-size="7.2" text-anchor="middle" font-weight="bold" fill="#111" stroke="#111" stroke-width="0.45">10</text>
<text transform="translate(63.7 836.39) scale(0.83 1)" font-size="7.2" text-anchor="middle" font-weight="bold" fill="#111" stroke="#111" stroke-width="0.45">12</text>
<text x="250.8" y="819.71" font-size="17.8" text-anchor="middle" font-weight="bold" fill="#000" stroke="#000" stroke-width="0.25">VH3-07</text>
<path d="M253.2 893.2L253.2 844.7A48.5 48.5 0 0 1 274.24 849.5Z" fill="#FF6080" stroke="#151515" stroke-width="0.8" stroke-linejoin="round"/>
<path d="M253.2 893.2L274.24 849.5A48.5 48.5 0 0 1 291.12 862.96Z" fill="#8800EE" stroke="#151515" stroke-width="0.8" stroke-linejoin="round"/>
<path d="M253.2 893.2L291.12 862.96A48.5 48.5 0 0 1 300.48 882.41Z" fill="#990011" stroke="#151515" stroke-width="0.8" stroke-linejoin="round"/>
<path d="M253.2 893.2L300.48 882.41A48.5 48.5 0 0 1 300.48 903.99Z" fill="#0DAF52" stroke="#151515" stroke-width="0.8" stroke-linejoin="round"/>
<path d="M253.2 893.2L300.48 903.99A48.5 48.5 0 0 1 253.2 941.7Z" fill="#1CF4E8" stroke="#151515" stroke-width="0.8" stroke-linejoin="round"/>
<path d="M253.2 893.2L253.2 941.7A48.5 48.5 0 0 1 232.16 936.9Z" fill="#D8FFFF" stroke="#151515" stroke-width="0.8" stroke-linejoin="round"/>
<path d="M253.2 893.2L232.16 936.9A48.5 48.5 0 0 1 215.28 923.44Z" fill="#CCFFA0" stroke="#151515" stroke-width="0.8" stroke-linejoin="round"/>
<path d="M253.2 893.2L215.28 923.44A48.5 48.5 0 0 1 205.92 903.99Z" fill="#FFFF66" stroke="#151515" stroke-width="0.8" stroke-linejoin="round"/>
<path d="M253.2 893.2L205.92 903.99A48.5 48.5 0 0 1 253.2 844.7Z" fill="#FF80FF" stroke="#151515" stroke-width="0.8" stroke-linejoin="round"/>
<path d="M256.87 827.02A67.6 67.6 0 0 1 280.42 831.92" fill="none" stroke="#1212EC" stroke-width="2.7"/>
<path d="M282.14 832.42A67.8 67.8 0 0 1 321.87 906.37" fill="none" stroke="#10E010" stroke-width="2.7"/>
<path d="M321.34 908.08A67.6 67.6 0 1 1 255.45 827" fill="none" stroke="#F41212" stroke-width="2.7"/>
<text transform="translate(266.8 841.69) scale(0.83 1)" font-size="7.2" text-anchor="middle" font-weight="bold" fill="#111" stroke="#111" stroke-width="0.45">5</text>
<text transform="translate(287.7 851.79) scale(0.83 1)" font-size="7.2" text-anchor="middle" font-weight="bold" fill="#111" stroke="#111" stroke-width="0.45">12</text>
<text transform="translate(302.5 870.89) scale(0.83 1)" font-size="7.2" text-anchor="middle" font-weight="bold" fill="#111" stroke="#111" stroke-width="0.45">13</text>
<text transform="translate(307.1 895.79) scale(0.83 1)" font-size="7.2" text-anchor="middle" font-weight="bold" fill="#111" stroke="#111" stroke-width="0.45">14</text>
<text transform="translate(288.3 940.09) scale(0.83 1)" font-size="7.2" text-anchor="middle" font-weight="bold" fill="#111" stroke="#111" stroke-width="0.45">16</text>
<text transform="translate(239.4 951.19) scale(0.83 1)" font-size="7.2" text-anchor="middle" font-weight="bold" fill="#111" stroke="#111" stroke-width="0.45">17</text>
<text transform="translate(217.8 940.09) scale(0.83 1)" font-size="7.2" text-anchor="middle" font-weight="bold" fill="#111" stroke="#111" stroke-width="0.45">18</text>
<text transform="translate(203.1 919.49) scale(0.83 1)" font-size="7.2" text-anchor="middle" font-weight="bold" fill="#111" stroke="#111" stroke-width="0.45">19</text>
<text transform="translate(199.1 908.09) scale(0.83 1)" font-size="7.2" text-anchor="middle" font-weight="bold" fill="#111" stroke="#111" stroke-width="0.45">20</text>
<text transform="translate(207.1 861.09) scale(0.83 1)" font-size="7.2" text-anchor="middle" font-weight="bold" fill="#111" stroke="#111" stroke-width="0.45">&gt;20</text>
<text x="445.5" y="819.71" font-size="17.8" text-anchor="middle" font-weight="bold" fill="#000" stroke="#000" stroke-width="0.25">VH4-34</text>
<path d="M447.7 892.2L447.7 843.7A48.5 48.5 0 0 1 493.83 877.21Z" fill="#9797FF" stroke="#151515" stroke-width="0.8" stroke-linejoin="round"/>
<path d="M447.7 892.2L493.83 877.21A48.5 48.5 0 0 1 496.1 889.15Z" fill="#0808EE" stroke="#151515" stroke-width="0.8" stroke-linejoin="round"/>
<path d="M447.7 892.2L496.1 889.15A48.5 48.5 0 0 1 485.07 923.12Z" fill="#DD22EE" stroke="#151515" stroke-width="0.8" stroke-linejoin="round"/>
<path d="M447.7 892.2L485.07 923.12A48.5 48.5 0 0 1 476.21 931.44Z" fill="#8800EE" stroke="#151515" stroke-width="0.8" stroke-linejoin="round"/>
<path d="M447.7 892.2L476.21 931.44A48.5 48.5 0 0 1 429.85 937.29Z" fill="#0DAF52" stroke="#151515" stroke-width="0.8" stroke-linejoin="round"/>
<path d="M447.7 892.2L429.85 937.29A48.5 48.5 0 0 1 403.82 912.85Z" fill="#0A0AEE" stroke="#151515" stroke-width="0.8" stroke-linejoin="round"/>
<path d="M447.7 892.2L403.82 912.85A48.5 48.5 0 0 1 400.06 901.29Z" fill="#1CF4E8" stroke="#151515" stroke-width="0.8" stroke-linejoin="round"/>
<path d="M447.7 892.2L400.06 901.29A48.5 48.5 0 0 1 401.57 877.21Z" fill="#CCFFA0" stroke="#151515" stroke-width="0.8" stroke-linejoin="round"/>
<path d="M447.7 892.2L401.57 877.21A48.5 48.5 0 0 1 406.75 866.21Z" fill="#99E2FF" stroke="#151515" stroke-width="0.8" stroke-linejoin="round"/>
<path d="M447.7 892.2L406.75 866.21A48.5 48.5 0 0 1 447.7 843.7Z" fill="#FF80FF" stroke="#151515" stroke-width="0.8" stroke-linejoin="round"/>
<path d="M448.1 824.41A70 68.8 0 0 1 512.78 869.67" fill="none" stroke="#1212EC" stroke-width="2.7"/>
<path d="M513.8 872.63A70 68.8 0 0 1 418.75 956.15" fill="none" stroke="#10E010" stroke-width="2.7"/>
<path d="M416.53 955.14A70 68.8 0 0 1 446.02 824.41" fill="none" stroke="#F41212" stroke-width="2.7"/>
<text transform="translate(479.4 849.69) scale(0.83 1)" font-size="7.2" text-anchor="middle" font-weight="bold" fill="#111" stroke="#111" stroke-width="0.45">0</text>
<text transform="translate(500 884.09) scale(0.83 1)" font-size="7.2" text-anchor="middle" font-weight="bold" fill="#111" stroke="#111" stroke-width="0.45">8</text>
<text transform="translate(498.5 911.79) scale(0.83 1)" font-size="7.2" text-anchor="middle" font-weight="bold" fill="#111" stroke="#111" stroke-width="0.45">9</text>
<text transform="translate(486.2 936.39) scale(0.83 1)" font-size="7.2" text-anchor="middle" font-weight="bold" fill="#111" stroke="#111" stroke-width="0.45">12</text>
<text transform="translate(454.8 951.19) scale(0.83 1)" font-size="7.2" text-anchor="middle" font-weight="bold" fill="#111" stroke="#111" stroke-width="0.45">14</text>
<text transform="translate(408.6 937.09) scale(0.83 1)" font-size="7.2" text-anchor="middle" font-weight="bold" fill="#111" stroke="#111" stroke-width="0.45">15</text>
<text transform="translate(394.5 911.79) scale(0.83 1)" font-size="7.2" text-anchor="middle" font-weight="bold" fill="#111" stroke="#111" stroke-width="0.45">16</text>
<text transform="translate(390.8 892.79) scale(0.83 1)" font-size="7.2" text-anchor="middle" font-weight="bold" fill="#111" stroke="#111" stroke-width="0.45">18</text>
<text transform="translate(396.9 871.79) scale(0.83 1)" font-size="7.2" text-anchor="middle" font-weight="bold" fill="#111" stroke="#111" stroke-width="0.45">20</text>
<text transform="translate(416.3 845.69) scale(0.83 1)" font-size="7.2" text-anchor="middle" font-weight="bold" fill="#111" stroke="#111" stroke-width="0.45">&gt;20</text>
<text x="73.8" y="987.33" font-size="17.3" text-anchor="middle" font-weight="bold" fill="#000" stroke="#000" stroke-width="0.25">other VH1</text>
<path d="M71.6 1065.5L71.6 1013.7A51.8 51.8 0 0 1 114.23 1094.93Z" fill="#9797FF" stroke="#151515" stroke-width="0.8" stroke-linejoin="round"/>
<path d="M71.6 1065.5L114.23 1094.93A51.8 51.8 0 0 1 84 1115.79Z" fill="#A50096" stroke="#151515" stroke-width="0.8" stroke-linejoin="round"/>
<path d="M71.6 1065.5L84 1115.79A51.8 51.8 0 0 1 59.2 1115.79Z" fill="#FFFFC0" stroke="#151515" stroke-width="0.8" stroke-linejoin="round"/>
<path d="M71.6 1065.5L59.2 1115.79A51.8 51.8 0 0 1 47.53 1111.37Z" fill="#FF6080" stroke="#151515" stroke-width="0.8" stroke-linejoin="round"/>
<path d="M71.6 1065.5L47.53 1111.37A51.8 51.8 0 0 1 37.25 1104.27Z" fill="#1166EE" stroke="#151515" stroke-width="0.8" stroke-linejoin="round"/>
<path d="M71.6 1065.5L37.25 1104.27A51.8 51.8 0 0 1 28.97 1094.93Z" fill="#0808EE" stroke="#151515" stroke-width="0.8" stroke-linejoin="round"/>
<path d="M71.6 1065.5L28.97 1094.93A51.8 51.8 0 0 1 23.17 1083.87Z" fill="#DD22EE" stroke="#151515" stroke-width="0.8" stroke-linejoin="round"/>
<path d="M71.6 1065.5L23.17 1083.87A51.8 51.8 0 0 1 20.18 1059.26Z" fill="#990011" stroke="#151515" stroke-width="0.8" stroke-linejoin="round"/>
<path d="M71.6 1065.5L20.18 1059.26A51.8 51.8 0 0 1 23.17 1047.13Z" fill="#0DAF52" stroke="#151515" stroke-width="0.8" stroke-linejoin="round"/>
<path d="M71.6 1065.5L23.17 1047.13A51.8 51.8 0 0 1 28.97 1036.07Z" fill="#CCFFA0" stroke="#151515" stroke-width="0.8" stroke-linejoin="round"/>
<path d="M71.6 1065.5L28.97 1036.07A51.8 51.8 0 0 1 71.6 1013.7Z" fill="#FF80FF" stroke="#151515" stroke-width="0.8" stroke-linejoin="round"/>
<path d="M72.66 995.81A74 70.2 0 1 1 40.23 1129.62" fill="none" stroke="#1212EC" stroke-width="2.7"/>
<path d="M40.94 1128.65A68.5 70 0 0 1 6.93 1042.63" fill="none" stroke="#10E010" stroke-width="2.7"/>
<path d="M6.92 1040.34A69.3 70 0 0 1 70.55 996.01" fill="none" stroke="#F41212" stroke-width="2.7"/>
<text transform="translate(120.9 1040.29) scale(0.83 1)" font-size="7.2" text-anchor="middle" font-weight="bold" fill="#111" stroke="#111" stroke-width="0.45">0</text>
<text transform="translate(103.7 1116.59) scale(0.83 1)" font-size="7.2" text-anchor="middle" font-weight="bold" fill="#111" stroke="#111" stroke-width="0.45">1</text>
<text transform="translate(71.7 1125.49) scale(0.83 1)" font-size="7.2" text-anchor="middle" font-weight="bold" fill="#111" stroke="#111" stroke-width="0.45">2</text>
<text transform="translate(50.8 1122.79) scale(0.83 1)" font-size="7.2" text-anchor="middle" font-weight="bold" fill="#111" stroke="#111" stroke-width="0.45">5</text>
<text transform="translate(39.1 1116.59) scale(0.83 1)" font-size="7.2" text-anchor="middle" font-weight="bold" fill="#111" stroke="#111" stroke-width="0.45">6</text>
<text transform="translate(29.8 1107.39) scale(0.83 1)" font-size="7.2" text-anchor="middle" font-weight="bold" fill="#111" stroke="#111" stroke-width="0.45">8</text>
<text transform="translate(21.5 1095.69) scale(0.83 1)" font-size="7.2" text-anchor="middle" font-weight="bold" fill="#111" stroke="#111" stroke-width="0.45">9</text>
<text transform="translate(14.8 1075.69) scale(0.83 1)" font-size="7.2" text-anchor="middle" font-weight="bold" fill="#111" stroke="#111" stroke-width="0.45">13</text>
<text transform="translate(15.4 1055.09) scale(0.83 1)" font-size="7.2" text-anchor="middle" font-weight="bold" fill="#111" stroke="#111" stroke-width="0.45">14</text>
<text transform="translate(19.1 1040.89) scale(0.83 1)" font-size="7.2" text-anchor="middle" font-weight="bold" fill="#111" stroke="#111" stroke-width="0.45">18</text>
<text transform="translate(40 1017.19) scale(0.83 1)" font-size="7.2" text-anchor="middle" font-weight="bold" fill="#111" stroke="#111" stroke-width="0.45">&gt;20</text>
<text x="255.4" y="986.83" font-size="17.3" text-anchor="middle" font-weight="bold" fill="#000" stroke="#000" stroke-width="0.25">other VH3</text>
<path d="M260 1062.4L260 1011.5A50.9 50.9 0 0 1 301.34 1032.7Z" fill="#9797FF" stroke="#151515" stroke-width="0.8" stroke-linejoin="round"/>
<path d="M260 1062.4L301.34 1032.7A50.9 50.9 0 0 1 310.86 1060.27Z" fill="#A50096" stroke="#151515" stroke-width="0.8" stroke-linejoin="round"/>
<path d="M260 1062.4L310.86 1060.27A50.9 50.9 0 0 1 303.21 1089.3Z" fill="#FFFFC0" stroke="#151515" stroke-width="0.8" stroke-linejoin="round"/>
<path d="M260 1062.4L303.21 1089.3A50.9 50.9 0 0 1 295.55 1098.83Z" fill="#5C00B0" stroke="#151515" stroke-width="0.8" stroke-linejoin="round"/>
<path d="M260 1062.4L295.55 1098.83A50.9 50.9 0 0 1 289.27 1104.04Z" fill="#1166EE" stroke="#151515" stroke-width="0.8" stroke-linejoin="round"/>
<path d="M260 1062.4L289.27 1104.04A50.9 50.9 0 0 1 273.94 1111.35Z" fill="#D5D5FF" stroke="#151515" stroke-width="0.8" stroke-linejoin="round"/>
<path d="M260 1062.4L273.94 1111.35A50.9 50.9 0 0 1 257.87 1113.26Z" fill="#0808EE" stroke="#151515" stroke-width="0.8" stroke-linejoin="round"/>
<path d="M260 1062.4L257.87 1113.26A50.9 50.9 0 0 1 252.92 1112.8Z" fill="#DD22EE" stroke="#151515" stroke-width="0.8" stroke-linejoin="round"/>
<path d="M260 1062.4L252.92 1112.8A50.9 50.9 0 0 1 247.51 1111.74Z" fill="#22FFAA" stroke="#151515" stroke-width="0.8" stroke-linejoin="round"/>
<path d="M260 1062.4L247.51 1111.74A50.9 50.9 0 0 1 236.65 1107.63Z" fill="#8800EE" stroke="#151515" stroke-width="0.8" stroke-linejoin="round"/>
<path d="M260 1062.4L236.65 1107.63A50.9 50.9 0 0 1 225.61 1099.93Z" fill="#0DAF52" stroke="#151515" stroke-width="0.8" stroke-linejoin="round"/>
<path d="M260 1062.4L225.61 1099.93A50.9 50.9 0 0 1 216.51 1088.84Z" fill="#0A0AEE" stroke="#151515" stroke-width="0.8" stroke-linejoin="round"/>
<path d="M260 1062.4L216.51 1088.84A50.9 50.9 0 0 1 213.29 1082.61Z" fill="#1CF4E8" stroke="#151515" stroke-width="0.8" stroke-linejoin="round"/>
<path d="M260 1062.4L213.29 1082.61A50.9 50.9 0 0 1 211.51 1077.88Z" fill="#D8FFFF" stroke="#151515" stroke-width="0.8" stroke-linejoin="round"/>
<path d="M260 1062.4L211.51 1077.88A50.9 50.9 0 0 1 209.24 1066.13Z" fill="#CCFFA0" stroke="#151515" stroke-width="0.8" stroke-linejoin="round"/>
<path d="M260 1062.4L209.24 1066.13A50.9 50.9 0 0 1 209.12 1060.89Z" fill="#FFFF66" stroke="#151515" stroke-width="0.8" stroke-linejoin="round"/>
<path d="M260 1062.4L209.12 1060.89A50.9 50.9 0 0 1 209.41 1056.81Z" fill="#99E2FF" stroke="#151515" stroke-width="0.8" stroke-linejoin="round"/>
<path d="M260 1062.4L209.41 1056.81A50.9 50.9 0 0 1 260 1011.5Z" fill="#FF80FF" stroke="#151515" stroke-width="0.8" stroke-linejoin="round"/>
<path d="M261.14 993.71A72.5 70.3 0 0 1 314.3 1110.58" fill="none" stroke="#1212EC" stroke-width="2.7"/>
<path d="M312.45 1112A73.3 73.3 0 0 1 210.95 1115.46" fill="none" stroke="#10E010" stroke-width="2.7"/>
<path d="M208.37 1112.76A70 70 0 0 1 257.44 993.71" fill="none" stroke="#F41212" stroke-width="2.7"/>
<text transform="translate(285.5 1014.49) scale(0.83 1)" font-size="7.2" text-anchor="middle" font-weight="bold" fill="#111" stroke="#111" stroke-width="0.45">0</text>
<text transform="translate(311.7 1046.79) scale(0.83 1)" font-size="7.2" text-anchor="middle" font-weight="bold" fill="#111" stroke="#111" stroke-width="0.45">1</text>
<text transform="translate(313.2 1080.09) scale(0.83 1)" font-size="7.2" text-anchor="middle" font-weight="bold" fill="#111" stroke="#111" stroke-width="0.45">2</text>
<text transform="translate(303.1 1102.19) scale(0.83 1)" font-size="7.2" text-anchor="middle" font-weight="bold" fill="#111" stroke="#111" stroke-width="0.45">4</text>
<text transform="translate(296.3 1109.29) scale(0.83 1)" font-size="7.2" text-anchor="middle" font-weight="bold" fill="#111" stroke="#111" stroke-width="0.45">6</text>
<text transform="translate(285.5 1117.59) scale(0.83 1)" font-size="7.2" text-anchor="middle" font-weight="bold" fill="#111" stroke="#111" stroke-width="0.45">7</text>
<text transform="translate(267.1 1122.19) scale(0.83 1)" font-size="7.2" text-anchor="middle" font-weight="bold" fill="#111" stroke="#111" stroke-width="0.45">8</text>
<text transform="translate(253.8 1121.29) scale(0.83 1)" font-size="7.2" text-anchor="middle" font-weight="bold" fill="#111" stroke="#111" stroke-width="0.45">9</text>
<text transform="translate(245.5 1120.69) scale(0.83 1)" font-size="7.2" text-anchor="middle" font-weight="bold" fill="#111" stroke="#111" stroke-width="0.45">11</text>
<text transform="translate(235.4 1118.49) scale(0.83 1)" font-size="7.2" text-anchor="middle" font-weight="bold" fill="#111" stroke="#111" stroke-width="0.45">12</text>
<text transform="translate(225.2 1112.99) scale(0.83 1)" font-size="7.2" text-anchor="middle" font-weight="bold" fill="#111" stroke="#111" stroke-width="0.45">14</text>
<text transform="translate(209.8 1109.89) scale(0.83 1)" font-size="7.2" text-anchor="middle" font-weight="bold" fill="#111" stroke="#111" stroke-width="0.45">15</text>
<text transform="translate(203.1 1100.09) scale(0.83 1)" font-size="7.2" text-anchor="middle" font-weight="bold" fill="#111" stroke="#111" stroke-width="0.45">16</text>
<text transform="translate(201.5 1089.89) scale(0.83 1)" font-size="7.2" text-anchor="middle" font-weight="bold" fill="#111" stroke="#111" stroke-width="0.45">17</text>
<text transform="translate(199.4 1080.09) scale(0.83 1)" font-size="7.2" text-anchor="middle" font-weight="bold" fill="#111" stroke="#111" stroke-width="0.45">18</text>
<text transform="translate(197.8 1069.89) scale(0.83 1)" font-size="7.2" text-anchor="middle" font-weight="bold" fill="#111" stroke="#111" stroke-width="0.45">19</text>
<text transform="translate(196.9 1060.69) scale(0.83 1)" font-size="7.2" text-anchor="middle" font-weight="bold" fill="#111" stroke="#111" stroke-width="0.45">20</text>
<text transform="translate(220 1021.59) scale(0.83 1)" font-size="7.2" text-anchor="middle" font-weight="bold" fill="#111" stroke="#111" stroke-width="0.45">&gt;20</text>
<polyline points="213.8,1105.8 219.4,1102.7 221.5,1095" fill="none" stroke="#222" stroke-width="0.6"/>
<polyline points="207.1,1096.5 212.3,1093.5 215.4,1087.3" fill="none" stroke="#222" stroke-width="0.6"/>
<polyline points="205.5,1086.4 210.8,1084.2 213.2,1081.2" fill="none" stroke="#222" stroke-width="0.6"/>
<polyline points="203.7,1076.5 207.7,1075 210.2,1072.5" fill="none" stroke="#222" stroke-width="0.6"/>
<polyline points="202.2,1067.3 209.2,1064.8" fill="none" stroke="#222" stroke-width="0.6"/>
<polyline points="201.5,1058.1 209.2,1058.7" fill="none" stroke="#222" stroke-width="0.6"/>
<text x="439.4" y="986.83" font-size="17.3" text-anchor="middle" font-weight="bold" fill="#000" stroke="#000" stroke-width="0.25">other VH4</text>
<path d="M444.5 1064.4L444.5 1012.4A52 52 0 0 1 495.97 1057Z" fill="#9797FF" stroke="#151515" stroke-width="0.8" stroke-linejoin="round"/>
<path d="M444.5 1064.4L495.97 1057A52 52 0 0 1 483.8 1098.45Z" fill="#A50096" stroke="#151515" stroke-width="0.8" stroke-linejoin="round"/>
<path d="M444.5 1064.4L483.8 1098.45A52 52 0 0 1 444.5 1116.4Z" fill="#FFFFC0" stroke="#151515" stroke-width="0.8" stroke-linejoin="round"/>
<path d="M444.5 1064.4L444.5 1116.4A52 52 0 0 1 416.39 1108.15Z" fill="#CCFFF0" stroke="#151515" stroke-width="0.8" stroke-linejoin="round"/>
<path d="M444.5 1064.4L416.39 1108.15A52 52 0 0 1 405.2 1098.45Z" fill="#DD22EE" stroke="#151515" stroke-width="0.8" stroke-linejoin="round"/>
<path d="M444.5 1064.4L405.2 1098.45A52 52 0 0 1 397.2 1086Z" fill="#990011" stroke="#151515" stroke-width="0.8" stroke-linejoin="round"/>
<path d="M444.5 1064.4L397.2 1086A52 52 0 0 1 393.03 1071.8Z" fill="#0DAF52" stroke="#151515" stroke-width="0.8" stroke-linejoin="round"/>
<path d="M444.5 1064.4L393.03 1071.8A52 52 0 0 1 393.03 1057Z" fill="#1CF4E8" stroke="#151515" stroke-width="0.8" stroke-linejoin="round"/>
<path d="M444.5 1064.4L393.03 1057A52 52 0 0 1 397.2 1042.8Z" fill="#FFFF66" stroke="#151515" stroke-width="0.8" stroke-linejoin="round"/>
<path d="M444.5 1064.4L397.2 1042.8A52 52 0 0 1 444.5 1012.4Z" fill="#FF80FF" stroke="#151515" stroke-width="0.8" stroke-linejoin="round"/>
<path d="M444.65 993.91A73.5 71 0 1 1 405.21 1125.5" fill="none" stroke="#1212EC" stroke-width="2.7"/>
<path d="M404.76 1125.27A59.8 59.8 0 0 1 370.85 1075.47" fill="none" stroke="#10E010" stroke-width="2.7"/>
<path d="M371.73 1073.02A77.2 77.2 0 0 1 442.71 994.05" fill="none" stroke="#F41212" stroke-width="2.7"/>
<text transform="translate(482.2 1022.79) scale(0.83 1)" font-size="7.2" text-anchor="middle" font-weight="bold" fill="#111" stroke="#111" stroke-width="0.45">0</text>
<text transform="translate(498.5 1083.09) scale(0.83 1)" font-size="7.2" text-anchor="middle" font-weight="bold" fill="#111" stroke="#111" stroke-width="0.45">1</text>
<text transform="translate(468.3 1120.69) scale(0.83 1)" font-size="7.2" text-anchor="middle" font-weight="bold" fill="#111" stroke="#111" stroke-width="0.45">2</text>
<text transform="translate(427.7 1121.59) scale(0.83 1)" font-size="7.2" text-anchor="middle" font-weight="bold" fill="#111" stroke="#111" stroke-width="0.45">3</text>
<text transform="translate(407.7 1111.39) scale(0.83 1)" font-size="7.2" text-anchor="middle" font-weight="bold" fill="#111" stroke="#111" stroke-width="0.45">9</text>
<text transform="translate(396 1098.49) scale(0.83 1)" font-size="7.2" text-anchor="middle" font-weight="bold" fill="#111" stroke="#111" stroke-width="0.45">13</text>
<text transform="translate(389.2 1083.79) scale(0.83 1)" font-size="7.2" text-anchor="middle" font-weight="bold" fill="#111" stroke="#111" stroke-width="0.45">14</text>
<text transform="translate(387.1 1067.79) scale(0.83 1)" font-size="7.2" text-anchor="middle" font-weight="bold" fill="#111" stroke="#111" stroke-width="0.45">16</text>
<text transform="translate(388.6 1051.39) scale(0.83 1)" font-size="7.2" text-anchor="middle" font-weight="bold" fill="#111" stroke="#111" stroke-width="0.45">19</text>
<text transform="translate(409.2 1018.49) scale(0.83 1)" font-size="7.2" text-anchor="middle" font-weight="bold" fill="#111" stroke="#111" stroke-width="0.45">&gt;20</text>
</svg>
</body></html>
